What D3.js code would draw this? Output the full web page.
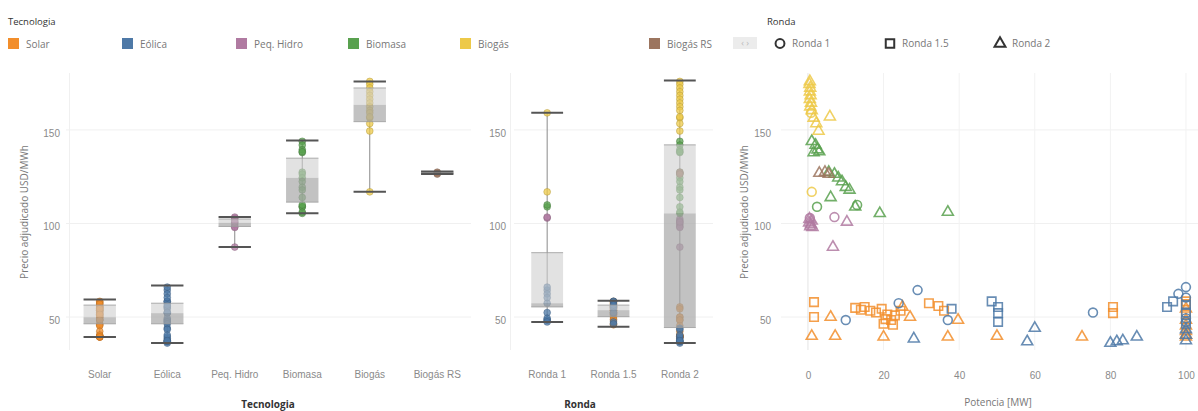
<!DOCTYPE html>
<html>
<head>
<meta charset="utf-8">
<script src="https://cdn.jsdelivr.net/npm/d3@7"></script>
<style>
  body { margin: 0; background: #fff; font-family: "Open Sans", sans-serif; }
  .tick text { fill: #8a8a8a; font-size: 10px; }
</style>
</head>
<body>
<svg id="chart" width="1198" height="411"></svg>
<script>
var tecnologias = ["Solar", "Eólica", "Peq. Hidro", "Biomasa", "Biogás", "Biogás RS"];
var tecColores = ["#F28E2B", "#4E79A7", "#B07AA1", "#59A14F", "#EDC948", "#9C755F"];
var rondas = ["Ronda 1", "Ronda 1.5", "Ronda 2"];
var yTicks = [50, 100, 150];
var xTicks = [0, 20, 40, 60, 80, 100];

// [min, q1, mediana, q3, max]
var cajaTec = [
  [41, 48, 51.5, 58, 61],
  [37.8, 48, 53.7, 59, 68.5],
  [89, 100, 102, 104, 105],
  [107, 113, 126, 136.5, 146],
  [118.5, 156, 165, 174, 177.5],
  [128, 128.4, 128.7, 129, 129.4]
];
var cajaRonda = [
  [49, 57, 59, 86, 160.7],
  [46.4, 51.8, 55.3, 58, 60.3],
  [37.7, 46, 107, 143.6, 178]
];

// proyectos: [potencia MW, precio USD/MWh, ronda (0,1,2)]
var puntosSolar = [
  [1.6, 59.6, 1], [1.6, 51.6, 1], [6, 51.6, 2], [1, 41.4, 2], [7.2, 41.4, 2],
  [12.5, 56.5, 1], [14, 55.5, 1], [15, 57, 1], [16.5, 55, 1], [18, 54, 1], [19.5, 56, 1],
  [21, 53, 1], [22, 50, 1], [20, 48, 1], [23, 52.5, 1], [24.5, 55, 1], [20.5, 50.5, 1], [22.5, 47.5, 1],
  [20, 41, 2], [25, 57, 2], [27, 51.6, 2], [32, 59, 1], [34.5, 57.5, 1], [36, 55, 1],
  [39.7, 50, 2], [37, 41, 2], [50, 41.4, 2], [72.5, 41, 2], [80.7, 57, 1], [80.7, 53.7, 1],
  [100, 60, 1], [100, 58.5, 1], [100, 56, 2], [100, 53, 1], [100, 50, 2], [100, 47, 2],
  [100, 44, 2], [100, 42, 2], [100, 41, 2]
];
var puntosEolica = [
  [10, 50, 0], [24, 59, 0], [29, 66, 0], [28, 40, 2], [38, 56, 1], [37, 50, 0],
  [48.6, 60, 1], [50.3, 57, 1], [50.3, 53.7, 1], [50.3, 49, 1], [58, 38.5, 2], [60, 45.7, 2],
  [75.4, 54, 0], [80, 37.7, 2], [81.7, 38.5, 2], [83.3, 39, 2], [87, 41, 2],
  [95, 57, 1], [96.6, 60, 1], [98, 64, 0], [100, 67.6, 0], [100, 62, 0], [100, 58, 1],
  [100, 54, 1], [100, 51, 0], [100, 49, 0], [100, 48, 1], [100, 45, 2], [100, 42, 2], [100, 39, 2]
];
var puntosPeqHidro = [
  [0.5, 104.5, 0], [0.4, 104, 2], [1.0, 103, 2], [0.3, 102, 2], [0.8, 101, 2], [0.6, 100, 2],
  [1.2, 99.5, 2], [7, 105, 0], [10.3, 102.4, 2], [6.6, 89, 2]
];
var puntosBiomasa = [
  [1.0, 145.5, 2], [2.0, 143.5, 2], [2.5, 141, 2], [1.5, 139.5, 2], [3.0, 140, 2],
  [5.5, 129, 2], [7.0, 128, 2], [8.0, 126, 2], [9.0, 124, 2], [10.0, 121, 2], [11.0, 119.5, 2],
  [6, 115.5, 2], [2.4, 110.5, 0], [12.5, 110.5, 2], [13, 111.5, 0], [19, 107, 2], [37, 107.7, 2]
];
var puntosBiogas = [
  [0.5, 177.5, 2], [0.4, 176, 2], [0.6, 174, 2], [0.5, 172, 2], [0.7, 170, 2], [0.5, 168, 2],
  [0.8, 166, 2], [0.6, 164, 2], [1.0, 162, 2], [0.8, 160.7, 0], [1.5, 158, 2], [5.8, 158.6, 2],
  [2.2, 155, 2], [2.8, 151, 2], [1, 118.5, 0]
];
var puntosBiogasRS = [
  [3.0, 128.5, 2], [4.5, 129, 2], [5.5, 128, 2]
];

var grupos = [puntosSolar, puntosEolica, puntosPeqHidro, puntosBiomasa, puntosBiogas, puntosBiogasRS];
var datos = [];
grupos.forEach(function(lista, t) {
  lista.forEach(function(p) {
    datos.push({ pot: p[0], precio: p[1], tec: t, ronda: p[2] });
  });
});

var svg = d3.select("#chart");
var y = d3.scaleLinear().domain([34, 182]).range([350, 73]);
var xTec = d3.scaleBand().domain(tecnologias).range([66, 471]);
var xRonda = d3.scaleBand().domain(rondas).range([514, 713]);
var xPot = d3.scaleLinear().domain([-7, 103]).range([781.5, 1197.3]);
var color = function(i) { return tecColores[i]; };
var formas = [d3.symbolCircle, d3.symbolSquare, d3.symbolTriangle];
var tamanos = [62, 72, 52];

// grid
function rejilla(x0, x1) {
  svg.append("g").selectAll("line").data(yTicks).enter().append("line")
    .attr("x1", x0).attr("x2", x1)
    .attr("y1", function(d) { return y(d) - 3; }).attr("y2", function(d) { return y(d) - 3; })
    .attr("stroke", "#f0f0f0");
}
rejilla(66, 471);
rejilla(514, 713);
rejilla(781, 1198);
svg.append("line").attr("x1", 69.5).attr("x2", 69.5).attr("y1", 73).attr("y2", 350).attr("stroke", "#f0f0f0");
svg.append("line").attr("x1", 510.5).attr("x2", 510.5).attr("y1", 73).attr("y2", 350).attr("stroke", "#f0f0f0");
svg.append("g").selectAll("line").data(xTicks).enter().append("line")
  .attr("x1", function(d) { return xPot(d); }).attr("x2", function(d) { return xPot(d); })
  .attr("y1", 73).attr("y2", 350)
  .attr("stroke", function(d) { return d === 0 ? "#e4e4e4" : "#f2f2f2"; });

// axes
function ejeY(x0, pad) {
  var g = svg.append("g").attr("transform", "translate(" + x0 + ",0)")
    .call(d3.axisLeft(y).tickValues(yTicks).tickSize(0).tickPadding(pad));
  g.select(".domain").remove();
}
ejeY(66, 6);
ejeY(514, 8);
ejeY(781, 10);

function ejeX(escala, pad, valores) {
  var eje = d3.axisBottom(escala).tickSize(0).tickPadding(pad);
  if (valores) eje.tickValues(valores);
  var g = svg.append("g").attr("transform", "translate(0,350)").call(eje);
  g.select(".domain").remove();
}
ejeX(xTec, 21);
ejeX(xRonda, 21);
ejeX(xPot, 22, xTicks);

// axis titles
svg.append("text").attr("x", 268).attr("y", 408).attr("text-anchor", "middle")
  .attr("font-size", 10).attr("font-weight", "bold").attr("fill", "#333").text("Tecnologia");
svg.append("text").attr("x", 580).attr("y", 408).attr("text-anchor", "middle")
  .attr("font-size", 10).attr("font-weight", "bold").attr("fill", "#333").text("Ronda");
svg.append("text").attr("x", 998).attr("y", 406).attr("text-anchor", "middle")
  .attr("font-size", 10).attr("fill", "#777").text("Potencia [MW]");
[24, 744].forEach(function(xt) {
  svg.append("text").attr("transform", "translate(" + xt + ",212) rotate(-90)")
    .attr("text-anchor", "middle").attr("dy", "0.35em")
    .attr("font-size", 10).attr("fill", "#777").text("Precio adjudicado USD/MWh");
});

// box plots
function cajas(escala, cats, stats, campo) {
  var w = escala.step() * 0.48;
  var cx = function(i) { return escala(cats[i]) + escala.bandwidth() / 2; };
  var g = svg.append("g");
  // whisker lines
  g.selectAll(".bigote").data(stats).enter().append("line")
    .attr("x1", function(d, i) { return cx(i); }).attr("x2", function(d, i) { return cx(i); })
    .attr("y1", function(d) { return y(d[0]); }).attr("y2", function(d) { return y(d[4]); })
    .attr("stroke", "#8a8a8a").attr("stroke-width", 1);
  // points
  g.selectAll(".pt").data(datos).enter().append("circle")
    .attr("cx", function(d) { return cx(d[campo]); })
    .attr("cy", function(d) { return y(d.precio); })
    .attr("r", 3.4)
    .attr("fill", function(d) { return color(d.tec); }).attr("fill-opacity", 0.75)
    .attr("stroke", function(d) { return d3.color(color(d.tec)).darker(0.8); })
    .attr("stroke-opacity", 0.6).attr("stroke-width", 0.8);
  // box halves
  g.selectAll(".alto").data(stats).enter().append("rect")
    .attr("x", function(d, i) { return cx(i) - w / 2; }).attr("width", w)
    .attr("y", function(d) { return y(d[3]); })
    .attr("height", function(d) { return y(d[2]) - y(d[3]); })
    .attr("fill", "#cfcfcf").attr("fill-opacity", 0.6);
  g.selectAll(".bajo").data(stats).enter().append("rect")
    .attr("x", function(d, i) { return cx(i) - w / 2; }).attr("width", w)
    .attr("y", function(d) { return y(d[2]); })
    .attr("height", function(d) { return y(d[1]) - y(d[2]); })
    .attr("fill", "#a8a8a8").attr("fill-opacity", 0.7);
  // box edges
  [1, 3].forEach(function(k) {
    g.selectAll(".borde" + k).data(stats).enter().append("line")
      .attr("x1", function(d, i) { return cx(i) - w / 2; }).attr("x2", function(d, i) { return cx(i) + w / 2; })
      .attr("y1", function(d) { return y(d[k]); }).attr("y2", function(d) { return y(d[k]); })
      .attr("stroke", "#9a9a9a").attr("stroke-width", 0.8);
  });
  // caps
  [0, 4].forEach(function(k) {
    g.selectAll(".tope" + k).data(stats).enter().append("line")
      .attr("x1", function(d, i) { return cx(i) - w / 2; }).attr("x2", function(d, i) { return cx(i) + w / 2; })
      .attr("y1", function(d) { return y(d[k]); }).attr("y2", function(d) { return y(d[k]); })
      .attr("stroke", "#555").attr("stroke-width", 2);
  });
}
cajas(xTec, tecnologias, cajaTec, "tec");
cajas(xRonda, rondas, cajaRonda, "ronda");

// scatter
svg.append("defs").append("clipPath").attr("id", "clipScatter")
  .append("rect").attr("x", 781).attr("y", 60).attr("width", 417).attr("height", 300);
svg.append("g").attr("clip-path", "url(#clipScatter)")
  .selectAll("path").data(datos).enter().append("path")
  .attr("transform", function(d) { return "translate(" + xPot(d.pot) + "," + y(d.precio) + ")"; })
  .attr("d", function(d) { return d3.symbol().type(formas[d.ronda]).size(tamanos[d.ronda])(); })
  .attr("fill", "none")
  .attr("stroke", function(d) { return color(d.tec); })
  .attr("stroke-width", 1.6).attr("stroke-opacity", 0.85);

// legends
svg.append("text").attr("x", 8).attr("y", 25).attr("font-size", 9.5).attr("fill", "#333").text("Tecnologia");
var legX = [8, 122, 236, 348, 460, 649];
var leg = svg.append("g").selectAll("g").data(tecnologias).enter().append("g")
  .attr("transform", function(d, i) { return "translate(" + legX[i] + ",38)"; });
leg.append("rect").attr("width", 11).attr("height", 11).attr("fill", function(d, i) { return tecColores[i]; });
leg.append("text").attr("x", 18).attr("y", 6).attr("dy", "0.35em").attr("font-size", 10).attr("fill", "#777")
  .text(function(d) { return d; });
svg.append("rect").attr("x", 733).attr("y", 37).attr("width", 24).attr("height", 12).attr("fill", "#ececec");
svg.append("text").attr("x", 745).attr("y", 43).attr("dy", "0.35em").attr("text-anchor", "middle")
  .attr("font-size", 9).attr("fill", "#bbb").text("‹ ›");

svg.append("text").attr("x", 767).attr("y", 25).attr("font-size", 9.5).attr("fill", "#333").text("Ronda");
var legRX = [780, 890, 1000];
var legR = svg.append("g").selectAll("g").data(rondas).enter().append("g")
  .attr("transform", function(d, i) { return "translate(" + legRX[i] + ",43.5)"; });
legR.append("path")
  .attr("d", function(d, i) { return d3.symbol().type(formas[i]).size(tamanos[i])(); })
  .attr("fill", "none").attr("stroke", "#333").attr("stroke-width", 2);
legR.append("text").attr("x", 12).attr("dy", "0.35em").attr("font-size", 10).attr("fill", "#777")
  .text(function(d) { return d; });
</script>
</body>
</html>
